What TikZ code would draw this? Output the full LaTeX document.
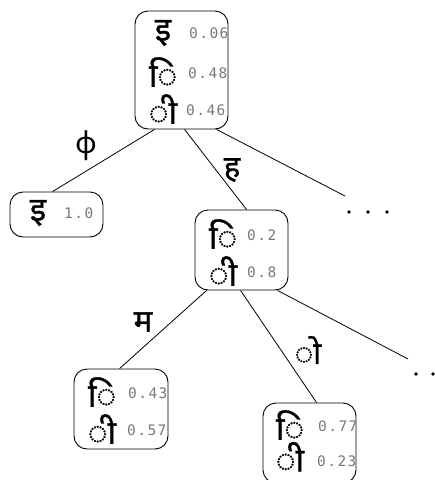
\documentclass[tikz,border=0pt]{standalone}
\usepackage{fontspec}
\usetikzlibrary{calc}
\newfontfamily\deva[Script=Devanagari,FakeBold=1]{Noto Sans}
\newfontfamily\numfont[LetterSpace=10]{DejaVu Sans Mono}
\newfontfamily\greekf{Noto Sans}
\definecolor{numgray}{HTML}{787878}
\tikzset{
  box/.style={draw, line width=0.9pt, rounded corners=13pt, inner sep=0pt},
  glyph/.style={inner sep=0pt, font=\deva\fontsize{33}{33}\selectfont},
  prob/.style={inner sep=0pt, anchor=west, text=numgray, font=\numfont\fontsize{14.5}{14.5}\selectfont},
  elabel/.style={inner sep=0pt, font=\deva\fontsize{31}{31}\selectfont},
  edge/.style={line width=0.8pt},
  dotn/.style={circle, fill=black, inner sep=0pt, minimum size=3.6pt}
}
\begin{document}
\begin{tikzpicture}[x=1pt,y=-1pt]
\useasboundingbox (0,0) rectangle (435,480);
% boxes
\node[box, minimum width=93pt, minimum height=118pt] (root) at (181.5,70) {};
\node[box, minimum width=93pt, minimum height=45pt] (lf) at (56.5,214.5) {};
\node[box, minimum width=93pt, minimum height=80pt] (mid) at (241.5,250) {};
\node[box, minimum width=94pt, minimum height=80pt] (bl) at (121,409) {};
\node[box, minimum width=93pt, minimum height=80pt] (br) at (309.5,443) {};
% root rows
\node[glyph] (r1) at (163,33) {इ};
\node[prob] (r1p) at (189,33) {0.06};
\node[glyph] (r2) at (163,72) {◌ि};
\node[prob] (r2p) at (188,73) {0.48};
\node[glyph] (r3) at (163,109) {◌ी};
\node[prob] (r3p) at (186,110) {0.46};
% left
\node[glyph] (l1) at (38,213) {इ};
\node[prob] (l1p) at (64,213) {1.0};
% mid
\node[glyph] (m1) at (223,234) {◌ि};
\node[prob] (m1p) at (247,235) {0.2};
\node[glyph] (m2) at (223,271) {◌ी};
\node[prob] (m2p) at (247,272) {0.8};
% bottom left
\node[glyph] (b1) at (102,392) {◌ि};
\node[prob] (b1p) at (128,393) {0.43};
\node[glyph] (b2) at (102,429) {◌ी};
\node[prob] (b2p) at (127,430) {0.57};
% bottom right
\node[glyph] (c1) at (290,425) {◌ि};
\node[prob] (c1p) at (318,426) {0.77};
\node[glyph, anchor=base, text depth=0pt] (c2) at (290,471.5) {◌ी};
\node[prob] (c2p) at (317,461) {0.23};
% dots
\node[dotn] (d1) at (349,212) {};
\node[dotn] (d2) at (368,212) {};
\node[dotn] (d3) at (387,212) {};
\node[dotn] (d4) at (416,374) {};
\node[dotn] (d5) at (433,374) {};
\coordinate (e1) at (345,196);
\coordinate (e2) at (408,359);
% edges
\draw[edge] ($(root.south west)+(20,0)$) -- ($(lf.north west)+(43,0)$);
\draw[edge] ($(root.south west)+(50,0)$) -- ($(mid.north west)+(52,0)$);
\draw[edge] ($(root.south west)+(82,0)$) -- (e1);
\draw[edge] ($(mid.south west)+(12,0)$) -- ($(bl.north west)+(46,0)$);
\draw[edge] ($(mid.south west)+(46,0)$) -- ($(br.north west)+(54,0)$);
\draw[edge] ($(mid.south west)+(83,0)$) -- (e2);
% edge labels
\node[inner sep=0pt, font=\greekf\fontsize{30}{30}\selectfont] (la) at (86,146) {ϕ};
\node[elabel] (lb) at (232,170) {ह};
\node[elabel] (lc) at (143,322) {म};
\node[elabel] (ld) at (308,350) {◌ो};
\end{tikzpicture}
\end{document}
